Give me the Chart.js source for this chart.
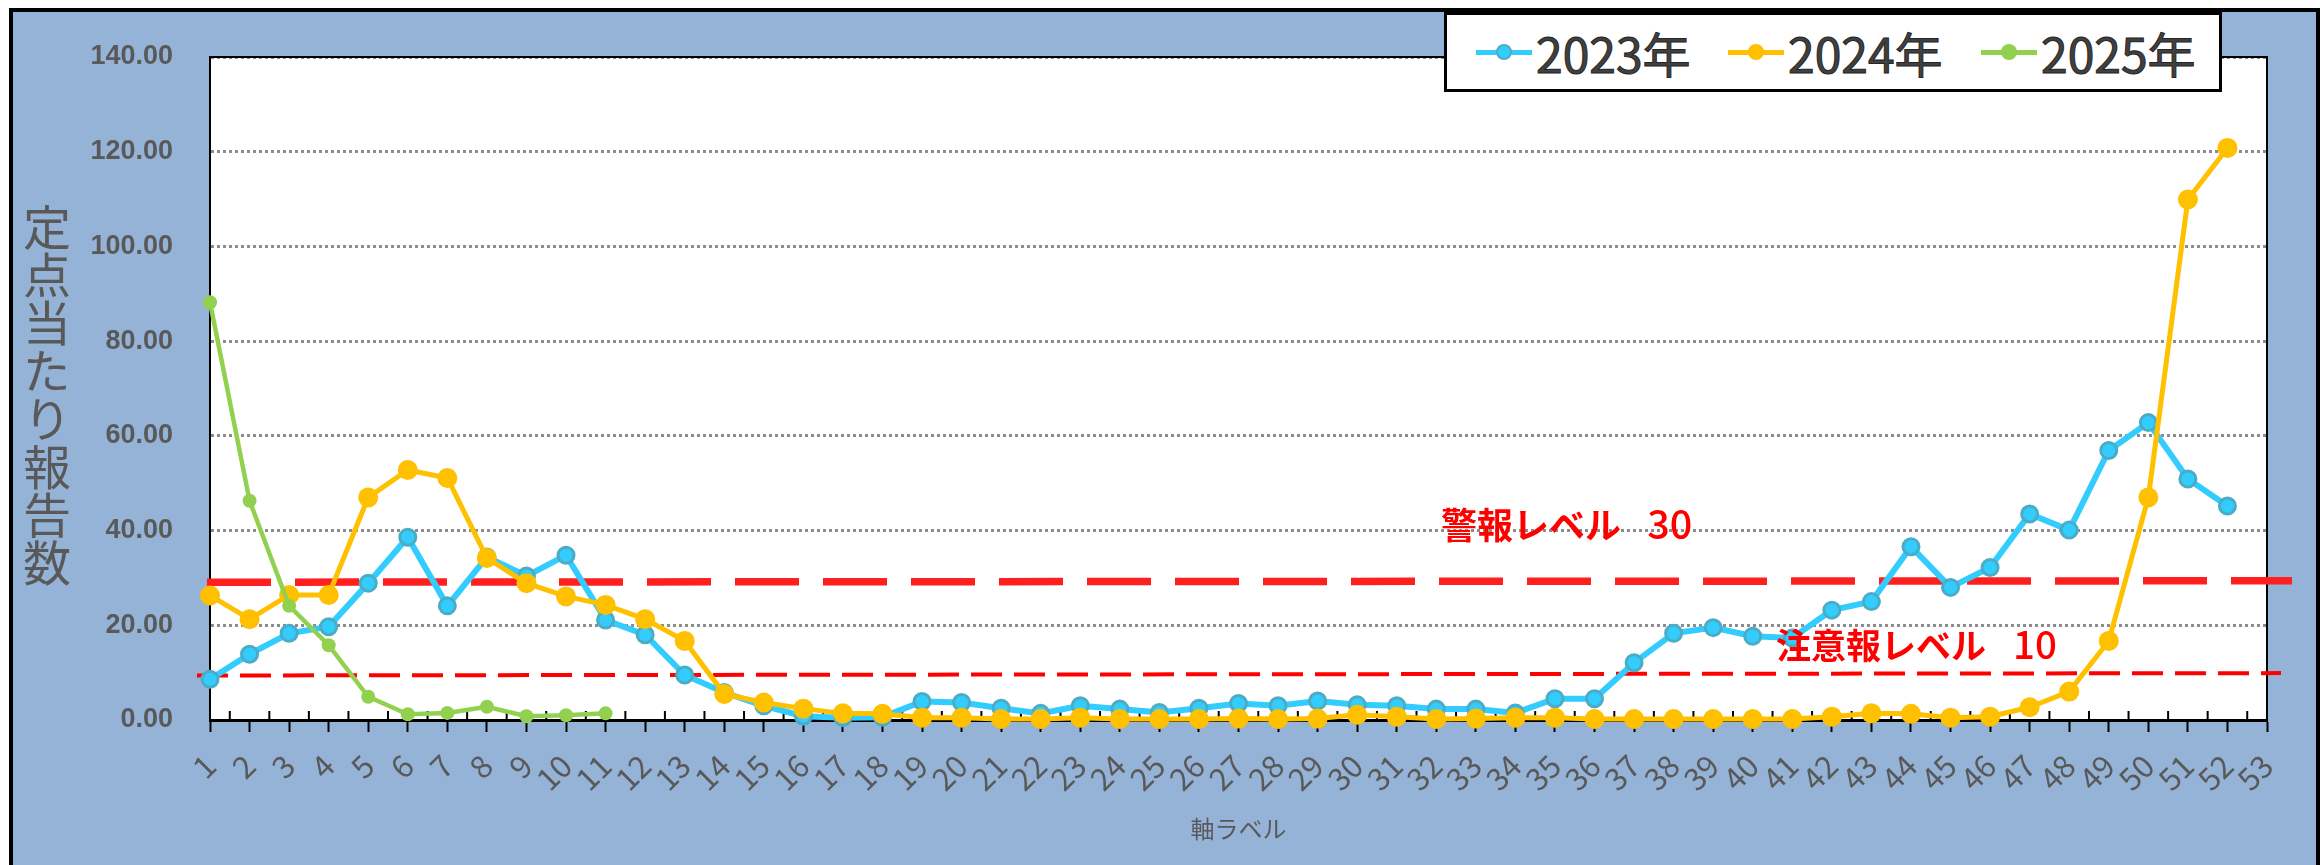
<!DOCTYPE html>
<html>

<head>
    <meta charset="utf-8">
    <title>定点当たり報告数</title>
    <script src="https://cdn.jsdelivr.net/npm/chart.js"></script>
    <style>
        html,
        body {
            margin: 0;
            padding: 0;
            background: #fff;
        }

        body {
            position: relative;
            width: 2320px;
            height: 865px;
            overflow: hidden;
            font-family: 'Noto Sans CJK JP', sans-serif;
        }

        .frame {
            position: absolute;
            left: 9px;
            top: 8px;
            width: 2303px;
            height: 900px;
            background: #95b3d7;
            border: 4px solid #000;
        }

        .chart-box {
            position: absolute;
            left: 0;
            top: 0;
            width: 2320px;
            height: 865px;
        }

        .y-title {
            position: absolute;
            left: 23px;
            top: 203px;
            writing-mode: vertical-rl;
            text-orientation: upright;
            font-size: 48px;
            line-height: 48px;
            color: #595959;
        }

        .legend {
            position: absolute;
            left: 1444px;
            top: 12px;
            width: 772px;
            height: 74px;
            border: 3px solid #000;
            background: #fff;
        }

        .legend-item {
            position: absolute;
            top: 0;
            height: 74px;
            display: flex;
            align-items: center;
        }

        .swatch {
            position: relative;
            width: 56px;
            height: 5px;
            margin-right: 4px;
        }

        .swatch span {
            position: absolute;
            left: 20px;
            top: -6px;
            width: 16px;
            height: 16px;
            border-radius: 50%;
            box-sizing: border-box;
        }

        .legend-text {
            font-size: 48px;
            font-weight: 400;
            color: #404040;
            -webkit-text-stroke: 1px #262626;
            line-height: 74px;
        }

        .note {
            position: absolute;
            color: #ff0000;
            font-weight: 700;
            white-space: pre;
        }

        .note b {
            font-size: 1.1em;
            font-weight: 500;
        }
    </style>
</head>

<body>
    <div class="frame"></div>
    <div class="chart-box"><canvas id="fluChart"></canvas></div>
    <div class="y-title">定点当たり報告数</div>
    <div class="note" style="left:1441px; top:504px; font-size:36px; line-height:36px; word-spacing:18px;">警報レベル <b>30</b></div>
    <div class="note" style="left:1776px; top:625px; font-size:35px; line-height:35px; word-spacing:19px;">注意報レベル <b>10</b></div>
    <div class="legend" id="legend"></div>

    <script>
        const weeks = [];
        for (let w = 1; w <= 53; w++) weeks.push(String(w));

        const cases2023 = [8.6, 13.9, 18.3, 19.7, 28.9, 38.6, 24.1, 34.4, 30.4, 34.8,
            21.1, 18.0, 9.5, 5.8, 3.0, 0.8, 0.5, 0.6, 3.9, 3.7,
            2.5, 1.4, 3.0, 2.3, 1.6, 2.5, 3.5, 3.0, 4.0, 3.2,
            3.0, 2.3, 2.3, 1.5, 4.5, 4.5, 12.1, 18.3, 19.5, 17.7,
            17.3, 23.2, 25.0, 36.6, 28.0, 32.2, 43.5, 40.1, 56.9, 62.8,
            50.9, 45.2];
        const cases2024 = [26.3, 21.3, 26.4, 26.4, 47.0, 52.8, 51.1, 34.2, 28.9, 26.1,
            24.3, 21.3, 16.7, 5.5, 3.7, 2.4, 1.4, 1.3, 0.5, 0.5,
            0.2, 0.2, 0.5, 0.2, 0.2, 0.2, 0.3, 0.2, 0.3, 1.1,
            0.7, 0.2, 0.3, 0.5, 0.5, 0.2, 0.2, 0.2, 0.2, 0.2,
            0.2, 0.7, 1.4, 1.3, 0.5, 0.7, 2.7, 6.0, 16.7, 47.0,
            109.9, 120.8];
        const cases2025 = [88.2, 46.3, 24.1, 15.8, 4.9, 1.2, 1.5, 2.8, 0.8, 1.0, 1.4];

        const yTicks = [0, 20, 40, 60, 80, 100, 120, 140];

        // hand drawn level lines: value at left end, value at right end
        const alertLine = [29.1, 29.4];
        const cautionLine = [9.4, 9.9];

        Chart.defaults.font.family = "'Noto Sans CJK JP', sans-serif";

        function drawLevel(ctx, y, vals, x1, x2, width, dash, color) {
            ctx.save();
            ctx.strokeStyle = color;
            ctx.lineWidth = width;
            ctx.setLineDash(dash);
            ctx.beginPath();
            ctx.moveTo(x1, y.getPixelForValue(vals[0]));
            ctx.lineTo(x2, y.getPixelForValue(vals[1]));
            ctx.stroke();
            ctx.restore();
        }

        const overlay = {
            id: 'overlay',
            beforeDraw(chart) {
                const { ctx, chartArea: a } = chart;
                ctx.save();
                ctx.fillStyle = '#fff';
                ctx.fillRect(a.left, a.top, a.right - a.left, a.bottom - a.top);
                ctx.restore();
            },
            beforeDatasetsDraw(chart) {
                const { ctx, chartArea: a, scales: { x, y } } = chart;
                ctx.save();
                ctx.strokeStyle = '#000';
                ctx.lineWidth = 2;
                ctx.beginPath();
                ctx.moveTo(a.left, a.top);
                ctx.lineTo(a.right, a.top);
                ctx.lineTo(a.right, a.bottom);
                ctx.stroke();

                // small inner ticks between weeks
                ctx.beginPath();
                for (let i = 0; i < weeks.length - 1; i++) {
                    const px = x.getPixelForValue(i + 0.5);
                    ctx.moveTo(px, a.bottom);
                    ctx.lineTo(px, a.bottom - 9);
                }
                ctx.stroke();
                ctx.restore();

                drawLevel(ctx, y, alertLine, a.left - 3, a.right + 25, 7.5, [64, 24], '#ff1f1f');
                drawLevel(ctx, y, cautionLine, a.left - 13, a.right + 14, 4, [31, 12], '#ff0000');
            }
        };

        const ctx = document.getElementById('fluChart').getContext('2d');
        const fluChart = new Chart(ctx, {
            type: 'line',
            data: {
                labels: weeks,
                datasets: [{
                    label: '2023年',
                    data: cases2023,
                    borderColor: '#33ccff',
                    backgroundColor: '#33ccff',
                    borderWidth: 6,
                    pointRadius: 8,
                    pointBorderWidth: 3,
                    pointBorderColor: '#4bacc6',
                    pointBackgroundColor: '#33ccff',
                    order: 3
                }, {
                    label: '2024年',
                    data: cases2024,
                    borderColor: '#ffc000',
                    backgroundColor: '#ffc000',
                    borderWidth: 5,
                    pointRadius: 10,
                    pointBorderWidth: 0,
                    pointBackgroundColor: '#ffc000',
                    order: 2
                }, {
                    label: '2025年',
                    data: cases2025,
                    borderColor: '#92d050',
                    backgroundColor: '#92d050',
                    borderWidth: 4.5,
                    pointRadius: 7,
                    pointBorderWidth: 0,
                    pointBackgroundColor: '#92d050',
                    order: 1
                }]
            },
            options: {
                responsive: true,
                maintainAspectRatio: false,
                animation: false,
                clip: false,
                layout: {
                    autoPadding: false,
                    padding: { left: 0, top: 57, right: 53, bottom: 0 }
                },
                plugins: {
                    legend: { display: false },
                    tooltip: { enabled: false }
                },
                scales: {
                    x: {
                        offset: false,
                        grid: {
                            display: true,
                            offset: false,
                            drawOnChartArea: false,
                            drawTicks: true,
                            tickLength: 12,
                            tickColor: '#000',
                            tickWidth: 2
                        },
                        border: { display: true, color: '#000', width: 3 },
                        ticks: {
                            color: '#595959',
                            font: { size: 31 },
                            minRotation: 45,
                            maxRotation: 45,
                            autoSkip: false,
                            padding: 15
                        },
                        title: {
                            display: true,
                            text: '軸ラベル',
                            color: '#595959',
                            font: { size: 24 },
                            padding: { top: 0, bottom: 22 }
                        },
                        afterFit(s) { s.height = 145; }
                    },
                    y: {
                        min: 0,
                        max: 140,
                        afterBuildTicks(s) { s.ticks = yTicks.map(v => ({ value: v })); },
                        ticks: {
                            callback: v => v.toFixed(2),
                            color: '#595959',
                            font: { family: "'Liberation Sans', sans-serif", size: 27, weight: 'bold' },
                            padding: 37
                        },
                        grid: {
                            drawTicks: false,
                            lineWidth: 3,
                            color: c => (c.tick && c.tick.value === 0) ? 'rgba(0,0,0,0)' : '#8c8c8c'
                        },
                        border: { display: true, color: '#000', width: 2, dash: [3, 3] },
                        afterFit(s) { s.width = 210; }
                    }
                }
            },
            plugins: [overlay]
        });

        // canvas text needs the CJK font to be loaded first
        if (document.fonts) document.fonts.ready.then(() => fluChart.update());

        // legend box, drawn over the plot like the original
        const legendOffsets = [29, 281, 534];
        const legendEl = document.getElementById('legend');
        fluChart.data.datasets.forEach((ds, i) => {
            const item = document.createElement('div');
            item.className = 'legend-item';
            item.style.left = legendOffsets[i] + 'px';
            const sw = document.createElement('div');
            sw.className = 'swatch';
            sw.style.background = ds.borderColor;
            const dot = document.createElement('span');
            dot.style.background = ds.pointBackgroundColor;
            if (ds.pointBorderWidth) dot.style.border = '2px solid ' + ds.pointBorderColor;
            sw.appendChild(dot);
            const txt = document.createElement('span');
            txt.className = 'legend-text';
            txt.textContent = ds.label;
            item.appendChild(sw);
            item.appendChild(txt);
            legendEl.appendChild(item);
        });
    </script>
</body>

</html>
